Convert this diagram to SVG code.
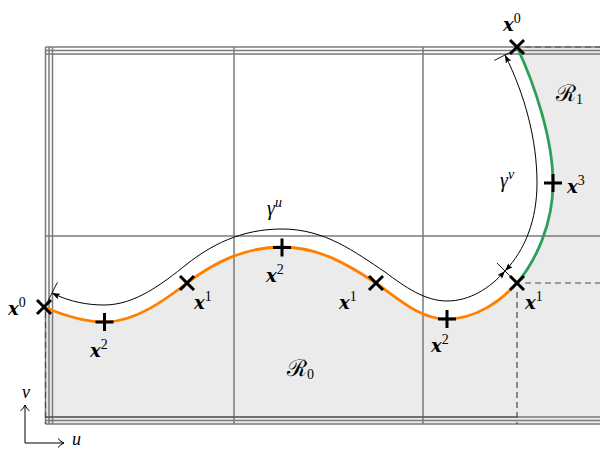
<svg xmlns="http://www.w3.org/2000/svg" width="600" height="449" viewBox="0 0 600 449">
<style>
.grid{stroke:#7a7a7a;stroke-width:1.5;fill:none}
.dash{stroke:#4a4a4a;stroke-width:1.2;stroke-dasharray:6 4;fill:none}
.mk{stroke:#000;stroke-width:3;fill:none}
.gam{stroke:#000;stroke-width:1;fill:none}
.tick{stroke:#000;stroke-width:0.9}
</style>
<defs>
<marker id="ah" viewBox="0 0 8 6" refX="8" refY="3" markerWidth="8" markerHeight="6" markerUnits="userSpaceOnUse" orient="auto-start-reverse">
<path d="M0,0 L8,3 L0,6 L1.5,3 z" fill="#000"/>
</marker>
<marker id="ax" viewBox="0 0 8 10" refX="7" refY="5" markerWidth="8" markerHeight="10" markerUnits="userSpaceOnUse" orient="auto">
<path d="M1,0.5 Q4,4 7,5 Q4,6 1,9.5" fill="none" stroke="#000" stroke-width="1"/>
</marker>
<path id="plus" d="M-9,0 H9 M0,-9 V9"/>
<path id="cross" d="M-7,-7 L7,7 M-7,7 L7,-7"/>
</defs>

<g id="regions">
<path d="M44,307 C65,316 85,322 105,322 C135,322 165,300 187,283 C215,262 245,247 282,247 C320,247 350,266 376,283 C400,300 420,319 447,319 C475,319 500,302 517,283 C535,262 553,225 553,183 C553,140 535,85 517,47 L600,47 L600,424 L45.5,424 L45.5,307 Z" fill="#ebebeb"/>
</g>

<g id="grid">
<line class="grid" x1="45.5" y1="47" x2="45.5" y2="424"/>
<line class="grid" x1="49" y1="47" x2="49" y2="424"/>
<line class="grid" x1="52.5" y1="47" x2="52.5" y2="424"/>
<line class="grid" x1="234" y1="47" x2="234" y2="424"/>
<line class="grid" x1="423" y1="47" x2="423" y2="424"/>
<line class="grid" x1="45.5" y1="47" x2="600" y2="47"/>
<line class="grid" x1="45.5" y1="50.5" x2="600" y2="50.5"/>
<line class="grid" x1="45.5" y1="54" x2="600" y2="54"/>
<line class="grid" x1="45.5" y1="236" x2="600" y2="236"/>
<line class="grid" x1="45.5" y1="417" x2="600" y2="417"/>
<line class="grid" x1="45.5" y1="420.5" x2="600" y2="420.5"/>
<line class="grid" x1="45.5" y1="424" x2="600" y2="424"/>
</g>

<g id="region-borders">
<line class="dash" x1="45.5" y1="312" x2="45.5" y2="424"/>
<line x1="45.5" y1="417" x2="517" y2="417" stroke="#4a4a4a" stroke-width="1.2"/>
<line class="dash" x1="517" y1="292" x2="517" y2="424"/>
<line class="dash" x1="525" y1="283" x2="600" y2="283"/>
<line class="dash" x1="525" y1="47" x2="600" y2="47"/>
</g>

<g id="curves">
<path id="curve-u" d="M44,307 C65,316 85,322 105,322 C135,322 165,300 187,283 C215,262 245,247 282,247 C320,247 350,266 376,283 C400,300 420,319 447,319 C475,319 500,302 517,283" fill="none" stroke="#ff8000" stroke-width="2.8"/>
<path id="curve-v" d="M517,283 C535,262 553,225 553,183 C553,140 535,85 517,47" fill="none" stroke="#2ca05a" stroke-width="2.8"/>
</g>

<g id="connectors">
<path id="gamma-u" class="gam" d="M52,293 C70,302 88,305 104,305 C135,305 162,284 187,264 C210,246 240,229 282,229 C325,229 355,252 385,272 C405,287 425,301 447,301 C470,301 490,288 505,271" marker-start="url(#ah)" marker-end="url(#ah)"/>
<path id="gamma-v" class="gam" d="M505,55 C525,95 537,140 537,183 C537,220 525,250 505,271" marker-start="url(#ah)" marker-end="url(#ah)"/>
<line class="tick" x1="57.4" y1="282.3" x2="46.6" y2="303.7"/>
<line class="tick" x1="515.7" y1="49.6" x2="494.3" y2="60.4"/>
<line class="tick" x1="497" y1="263" x2="513" y2="279"/>
</g>

<g id="labels-gamma" font-family="Liberation Serif, serif" font-style="italic" font-size="20">
<text x="267" y="215">γ<tspan font-size="14" dy="-8">u</tspan></text>
<text x="500" y="187">γ<tspan font-size="14" dy="-8">v</tspan></text>
</g>

<g id="points" font-family="DejaVu Serif, serif" font-weight="bold" font-style="italic" font-size="18">
<g id="node-x0-left">
<use href="#cross" class="mk" transform="translate(44,307)"/>
<text x="8" y="315">x<tspan font-family="Liberation Serif, serif" font-weight="normal" font-style="normal" font-size="14" dy="-8">0</tspan></text>
</g>
<g id="node-x2-a">
<use href="#plus" class="mk" transform="translate(104.5,322)"/>
<text x="90" y="357">x<tspan font-family="Liberation Serif, serif" font-weight="normal" font-style="normal" font-size="14" dy="-8">2</tspan></text>
</g>
<g id="node-x1-a">
<use href="#cross" class="mk" transform="translate(187,283)"/>
<text x="194" y="309">x<tspan font-family="Liberation Serif, serif" font-weight="normal" font-style="normal" font-size="14" dy="-8">1</tspan></text>
</g>
<g id="node-x2-b">
<use href="#plus" class="mk" transform="translate(282,247.5)"/>
<text x="266" y="282">x<tspan font-family="Liberation Serif, serif" font-weight="normal" font-style="normal" font-size="14" dy="-8">2</tspan></text>
</g>
<g id="node-x1-b">
<use href="#cross" class="mk" transform="translate(376,283)"/>
<text x="339" y="309">x<tspan font-family="Liberation Serif, serif" font-weight="normal" font-style="normal" font-size="14" dy="-8">1</tspan></text>
</g>
<g id="node-x2-c">
<use href="#plus" class="mk" transform="translate(447,319)"/>
<text x="431" y="352">x<tspan font-family="Liberation Serif, serif" font-weight="normal" font-style="normal" font-size="14" dy="-8">2</tspan></text>
</g>
<g id="node-x1-c">
<use href="#cross" class="mk" transform="translate(517,283)"/>
<text x="525" y="309">x<tspan font-family="Liberation Serif, serif" font-weight="normal" font-style="normal" font-size="14" dy="-8">1</tspan></text>
</g>
<g id="node-x3">
<use href="#plus" class="mk" transform="translate(553,183)"/>
<text x="567" y="193">x<tspan font-family="Liberation Serif, serif" font-weight="normal" font-style="normal" font-size="14" dy="-8">3</tspan></text>
</g>
<g id="node-x0-top">
<use href="#cross" class="mk" transform="translate(517,47)"/>
<text x="503" y="31">x<tspan font-family="Liberation Serif, serif" font-weight="normal" font-style="normal" font-size="14" dy="-8">0</tspan></text>
</g>
</g>

<g id="region-labels" font-family="DejaVu Serif, serif" font-size="23">
<text x="287" y="376">ℛ<tspan font-family="Liberation Serif, serif" font-size="14" dy="3">0</tspan></text>
<text x="556" y="101">ℛ<tspan font-family="Liberation Serif, serif" font-size="14" dy="3">1</tspan></text>
</g>

<g id="axes">
<line x1="25" y1="443" x2="25" y2="405" stroke="#000" stroke-width="1" marker-end="url(#ax)"/>
<line x1="25" y1="443" x2="64" y2="443" stroke="#000" stroke-width="1" marker-end="url(#ax)"/>
<text x="26" y="398" text-anchor="middle" font-family="Liberation Serif, serif" font-style="italic" font-size="18">v</text>
<text x="72" y="445" font-family="Liberation Serif, serif" font-style="italic" font-size="18">u</text>
</g>
</svg>
